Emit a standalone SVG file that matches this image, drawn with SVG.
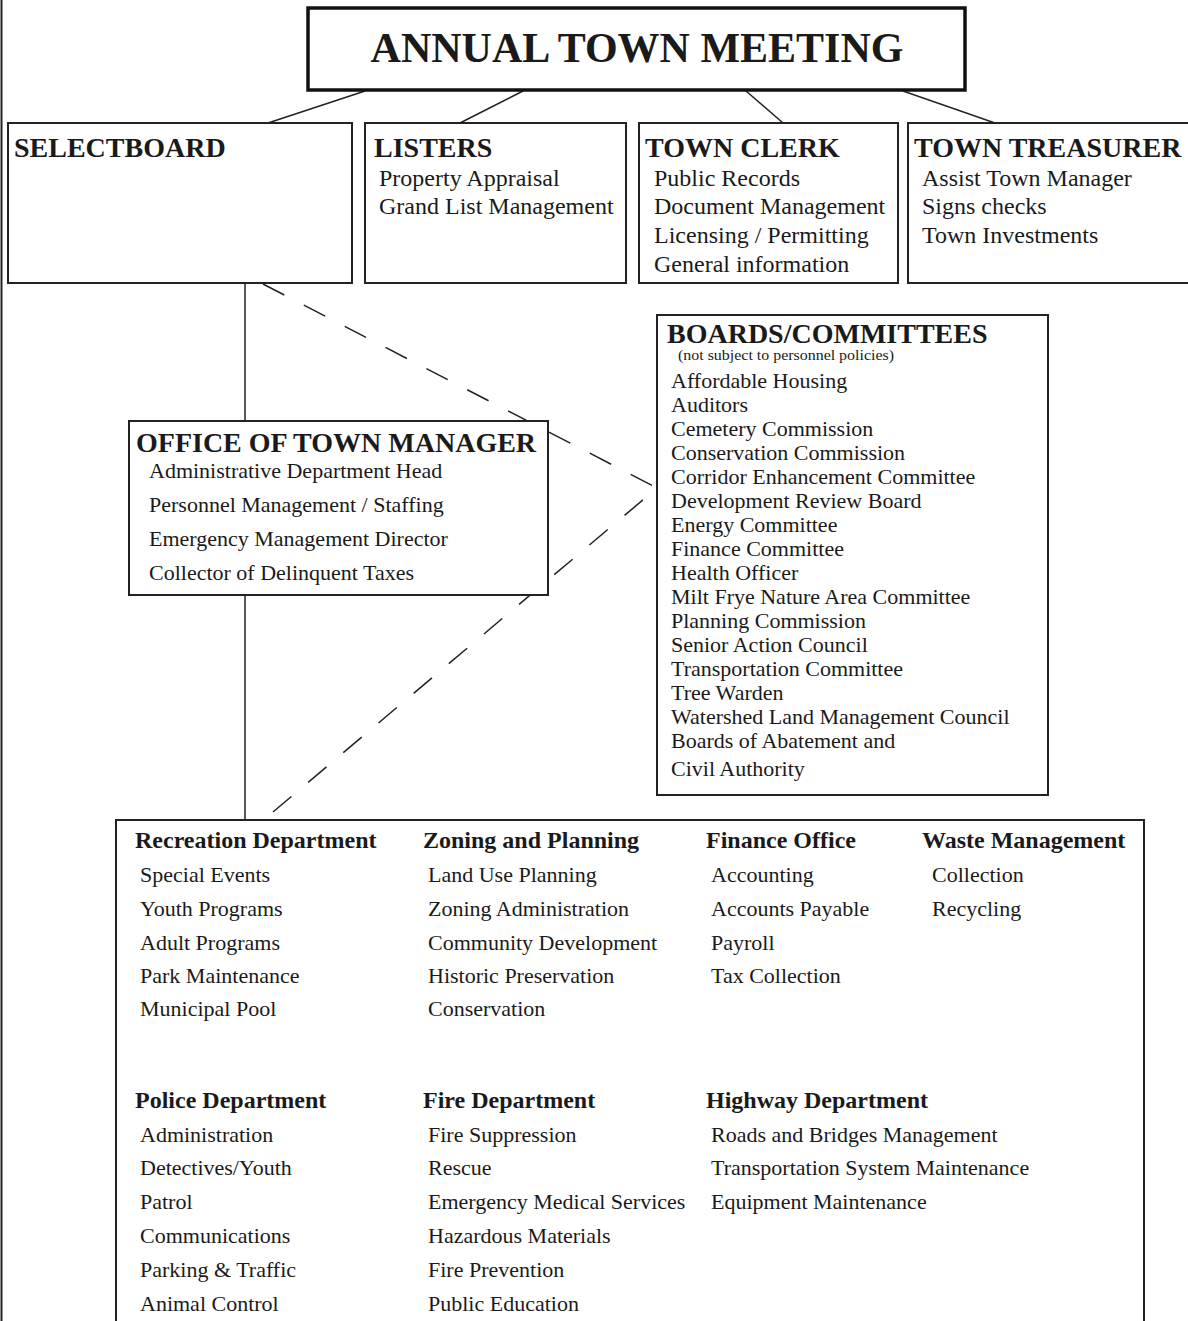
<svg xmlns="http://www.w3.org/2000/svg" width="1188" height="1321" viewBox="0 0 1188 1321">
<style>
  .box { fill: #fff; stroke: #222; stroke-width: 2; }
  .top { fill: #fff; stroke: #111; stroke-width: 3.5; }
  .ln { stroke: #222; stroke-width: 1.5; fill: none; }
  .dash { stroke: #222; stroke-width: 1.5; fill: none; stroke-dasharray: 24 22; }
  text { font-family: "Liberation Serif", "Times New Roman", serif; fill: #1a1a1a; }
  .h1 { font-size: 42px; font-weight: bold; }
  .h2 { font-size: 28px; font-weight: bold; }
  .h3 { font-size: 24px; font-weight: bold; }
  .i24 { font-size: 24px; }
  .i22 { font-size: 22px; }
  .sub { font-size: 14px; }
</style>
<rect x="0" y="0" width="1188" height="1321" fill="#fff"/>
<line x1="1.5" y1="0" x2="1.5" y2="1321" stroke="#222" stroke-width="2"/>

<g id="connectors">
  <line class="ln" x1="365" y1="91" x2="268" y2="123"/>
  <line class="ln" x1="523" y1="91" x2="460" y2="123"/>
  <line class="ln" x1="746" y1="91" x2="783" y2="123"/>
  <line class="ln" x1="903" y1="91" x2="995" y2="123"/>
  <line class="ln" x1="245" y1="283" x2="245" y2="421"/>
  <line class="ln" x1="245" y1="595" x2="245" y2="820"/>
  <line class="dash" x1="263" y1="284" x2="657" y2="488"/>
  <line class="dash" x1="273" y1="812" x2="657" y2="488"/>
</g>

<g id="annual-town-meeting">
  <rect class="top" x="308" y="8" width="657" height="82"/>
  <text class="h1" x="637" y="62" text-anchor="middle">ANNUAL TOWN MEETING</text>
</g>

<g id="selectboard">
  <rect class="box" x="8" y="123" width="344" height="160"/>
  <text class="h2" x="14" y="157">SELECTBOARD</text>
</g>

<g id="listers">
  <rect class="box" x="365" y="123" width="261" height="160"/>
  <text class="h2" x="374" y="157">LISTERS</text>
  <text class="i24" x="379" y="186">Property Appraisal</text>
  <text class="i24" x="379" y="214">Grand List Management</text>
</g>

<g id="town-clerk">
  <rect class="box" x="639" y="123" width="259" height="160"/>
  <text class="h2" x="645" y="157">TOWN CLERK</text>
  <text class="i24" x="654" y="186">Public Records</text>
  <text class="i24" x="654" y="214">Document Management</text>
  <text class="i24" x="654" y="243">Licensing / Permitting</text>
  <text class="i24" x="654" y="272">General information</text>
</g>

<g id="town-treasurer">
  <rect class="box" x="908" y="123" width="290" height="160"/>
  <text class="h2" x="914" y="157">TOWN TREASURER</text>
  <text class="i24" x="922" y="186">Assist Town Manager</text>
  <text class="i24" x="922" y="214">Signs checks</text>
  <text class="i24" x="922" y="243">Town Investments</text>
</g>

<g id="boards-committees">
  <rect class="box" x="657" y="315" width="391" height="480"/>
  <text class="h2" x="667" y="343">BOARDS/COMMITTEES</text>
  <text class="sub" x="678" y="360" textLength="216" lengthAdjust="spacingAndGlyphs">(not subject to personnel policies)</text>
  <text class="i22" x="671" y="388">Affordable Housing</text>
  <text class="i22" x="671" y="412">Auditors</text>
  <text class="i22" x="671" y="436">Cemetery Commission</text>
  <text class="i22" x="671" y="460">Conservation Commission</text>
  <text class="i22" x="671" y="484">Corridor Enhancement Committee</text>
  <text class="i22" x="671" y="508">Development Review Board</text>
  <text class="i22" x="671" y="532">Energy Committee</text>
  <text class="i22" x="671" y="556">Finance Committee</text>
  <text class="i22" x="671" y="580">Health Officer</text>
  <text class="i22" x="671" y="604">Milt Frye Nature Area Committee</text>
  <text class="i22" x="671" y="628">Planning Commission</text>
  <text class="i22" x="671" y="652">Senior Action Council</text>
  <text class="i22" x="671" y="676">Transportation Committee</text>
  <text class="i22" x="671" y="700">Tree Warden</text>
  <text class="i22" x="671" y="724">Watershed Land Management Council</text>
  <text class="i22" x="671" y="748">Boards of Abatement and</text>
  <text class="i22" x="671" y="776">Civil Authority</text>
</g>

<g id="office-of-town-manager">
  <rect class="box" x="129" y="421" width="419" height="174"/>
  <text class="h2" x="136" y="452">OFFICE OF TOWN MANAGER</text>
  <text class="i22" x="149" y="478">Administrative Department Head</text>
  <text class="i22" x="149" y="512">Personnel Management / Staffing</text>
  <text class="i22" x="149" y="546">Emergency Management Director</text>
  <text class="i22" x="149" y="580">Collector of Delinquent Taxes</text>
</g>

<g id="departments">
  <rect class="box" x="116" y="820" width="1028" height="560"/>
  <text class="h3" x="135" y="848">Recreation Department</text>
  <text class="i22" x="140" y="882">Special Events</text>
  <text class="i22" x="140" y="916">Youth Programs</text>
  <text class="i22" x="140" y="950">Adult Programs</text>
  <text class="i22" x="140" y="983">Park Maintenance</text>
  <text class="i22" x="140" y="1016">Municipal Pool</text>

  <text class="h3" x="423" y="848">Zoning and Planning</text>
  <text class="i22" x="428" y="882">Land Use Planning</text>
  <text class="i22" x="428" y="916">Zoning Administration</text>
  <text class="i22" x="428" y="950">Community Development</text>
  <text class="i22" x="428" y="983">Historic Preservation</text>
  <text class="i22" x="428" y="1016">Conservation</text>

  <text class="h3" x="706" y="848">Finance Office</text>
  <text class="i22" x="711" y="882">Accounting</text>
  <text class="i22" x="711" y="916">Accounts Payable</text>
  <text class="i22" x="711" y="950">Payroll</text>
  <text class="i22" x="711" y="983">Tax Collection</text>

  <text class="h3" x="922" y="848">Waste Management</text>
  <text class="i22" x="932" y="882">Collection</text>
  <text class="i22" x="932" y="916">Recycling</text>

  <text class="h3" x="135" y="1108">Police Department</text>
  <text class="i22" x="140" y="1142">Administration</text>
  <text class="i22" x="140" y="1175">Detectives/Youth</text>
  <text class="i22" x="140" y="1209">Patrol</text>
  <text class="i22" x="140" y="1243">Communications</text>
  <text class="i22" x="140" y="1277">Parking &amp; Traffic</text>
  <text class="i22" x="140" y="1311">Animal Control</text>

  <text class="h3" x="423" y="1108">Fire Department</text>
  <text class="i22" x="428" y="1142">Fire Suppression</text>
  <text class="i22" x="428" y="1175">Rescue</text>
  <text class="i22" x="428" y="1209">Emergency Medical Services</text>
  <text class="i22" x="428" y="1243">Hazardous Materials</text>
  <text class="i22" x="428" y="1277">Fire Prevention</text>
  <text class="i22" x="428" y="1311">Public Education</text>

  <text class="h3" x="706" y="1108">Highway Department</text>
  <text class="i22" x="711" y="1142">Roads and Bridges Management</text>
  <text class="i22" x="711" y="1175">Transportation System Maintenance</text>
  <text class="i22" x="711" y="1209">Equipment Maintenance</text>
</g>
</svg>
